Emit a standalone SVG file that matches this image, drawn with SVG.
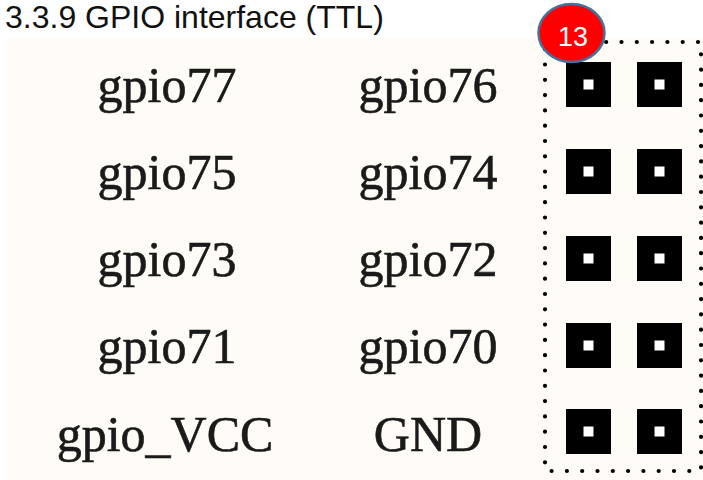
<svg xmlns="http://www.w3.org/2000/svg" width="703" height="480" viewBox="0 0 703 480">
<style>
.lbl{font-family:"Liberation Serif","Times New Roman",serif;font-size:50px;fill:#1a1a1a;stroke:#1a1a1a;stroke-width:0.6px;text-anchor:middle}
.pin{fill:#000}
.hole{fill:#fff}
</style>
<defs>
<g id="pinpair">
<rect class="pin" x="566" y="0" width="45" height="45"/>
<rect class="hole" x="583.5" y="17.5" width="10" height="10"/>
<rect class="pin" x="637" y="0" width="45" height="45"/>
<rect class="hole" x="654.5" y="17.5" width="10" height="10"/>
</g>
</defs>
<rect x="0" y="0" width="703" height="480" fill="#fff"/>
<rect x="7" y="38" width="696" height="442" fill="#fffbf6"/>
<text x="5" y="28" font-family="Liberation Sans, Arial, sans-serif" font-size="32" fill="#111">3.3.9 GPIO interface (TTL)</text>
<g id="connectors">
<rect x="545" y="42" width="156" height="429" fill="none" stroke="#000" stroke-width="4.2" stroke-linecap="round" stroke-dasharray="0 15.3"/>
</g>
<g id="row1"><text class="lbl" x="167" y="102">gpio77</text><text class="lbl" x="428" y="102">gpio76</text><use href="#pinpair" y="62"/></g>
<g id="row2"><text class="lbl" x="167" y="189">gpio75</text><text class="lbl" x="428" y="189">gpio74</text><use href="#pinpair" y="149"/></g>
<g id="row3"><text class="lbl" x="167" y="276">gpio73</text><text class="lbl" x="428" y="276">gpio72</text><use href="#pinpair" y="236"/></g>
<g id="row4"><text class="lbl" x="167" y="363">gpio71</text><text class="lbl" x="428" y="363">gpio70</text><use href="#pinpair" y="323"/></g>
<g id="row5"><text class="lbl" x="165" y="451">gpio_VCC</text><text class="lbl" x="428" y="451">GND</text><use href="#pinpair" y="409"/></g>
<g id="badge">
<ellipse cx="571.5" cy="33" rx="33" ry="29" fill="#ff0000" stroke="#41719c" stroke-width="2.5"/>
<text x="573" y="46" font-family="Liberation Sans, Arial, sans-serif" font-size="27" fill="#fff" text-anchor="middle">13</text>
</g>
</svg>
